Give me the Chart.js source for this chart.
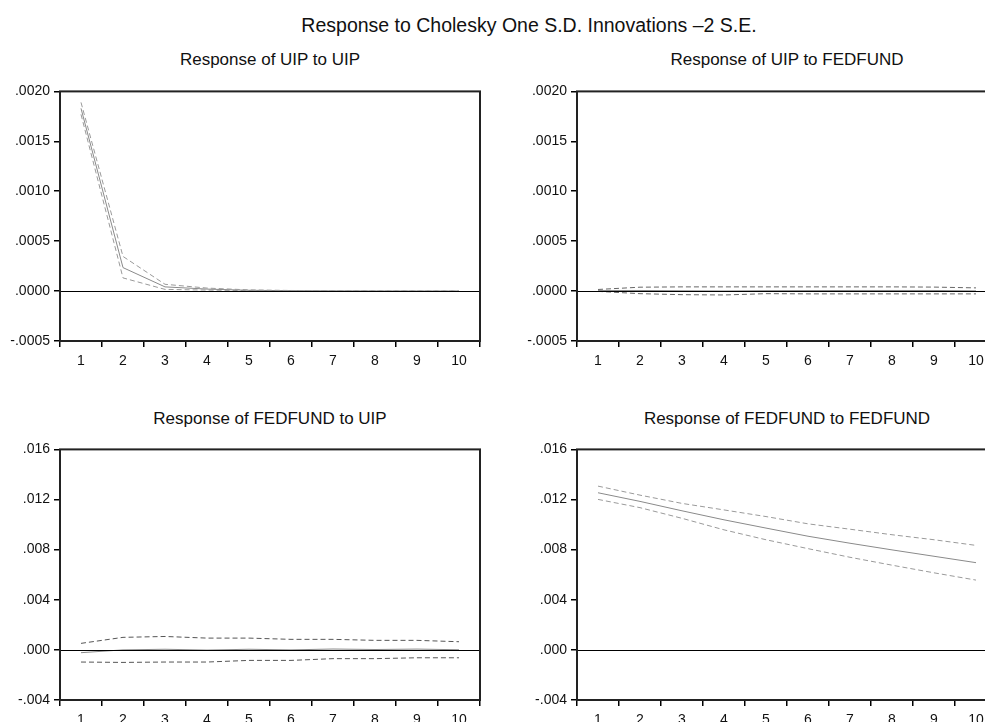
<!DOCTYPE html>
<html>
<head>
<meta charset="utf-8">
<script src="https://cdn.jsdelivr.net/npm/chart.js@4/dist/chart.umd.min.js"></script>
<style>
  html, body { margin: 0; padding: 0; background: #fff; overflow: hidden; width: 985px; height: 722px; }
  body { position: relative; font-family: "Liberation Sans", Arial, sans-serif; color: #111; }
  canvas { position: absolute; }
  .title { position: absolute; text-align: center; white-space: nowrap; }
  #mainTitle { left: 229px; width: 600px; top: 13px; font-size: 19.5px; line-height: 24px; }
  .sub { width: 420px; font-size: 17px; line-height: 20px; }
</style>
</head>
<body>
<div class="title" id="mainTitle">Response to Cholesky One S.D. Innovations –2 S.E.</div>
<div class="title sub" style="left:60px; top:50px;">Response of UIP to UIP</div>
<div class="title sub" style="left:577px; top:50px;">Response of UIP to FEDFUND</div>
<div class="title sub" style="left:60px; top:409px;">Response of FEDFUND to UIP</div>
<div class="title sub" style="left:577px; top:409px;">Response of FEDFUND to FEDFUND</div>

<canvas id="uipUip" width="490" height="300" style="left:0; top:79px;"></canvas>
<canvas id="uipFed" width="490" height="300" style="left:517px; top:79px;"></canvas>
<canvas id="fedUip" width="490" height="301" style="left:0; top:437px;"></canvas>
<canvas id="fedFed" width="490" height="301" style="left:517px; top:437px;"></canvas>

<script>
// periods after the shock
const periods = ['1', '2', '3', '4', '5', '6', '7', '8', '9', '10'];

// Response of UIP to UIP
const uipUipResp  = [0.00183, 0.000235, 0.000042, 0.00002, 0.000008, 0.000004, 0.000002, 0.000001, 0.0000005, 0.0000002];
const uipUipUpper = [0.00189, 0.000347, 0.000068, 0.00003, 0.000012, 0.000006, 0.000003, 0.000002, 0.000001, 0.0000005];
const uipUipLower = [0.00177, 0.000132, 0.000017, 0.00001, 0.000004, 0.000002, 0.000001, 0, 0, 0];

// Response of UIP to FEDFUND
const uipFedResp  = [0.000006, 0.000006, 0.000003, 0.000001, 0.000004, 0.000005, 0.000006, 0.000006, 0.000006, 0.000002];
const uipFedUpper = [0.000016, 0.000039, 0.000042, 0.000042, 0.000042, 0.000042, 0.000042, 0.000042, 0.00004, 0.000032];
const uipFedLower = [-0.000003, -0.000026, -0.000036, -0.000039, -0.000026, -0.000028, -0.000028, -0.000028, -0.000028, -0.000028];

// Response of FEDFUND to UIP
const fedUipResp  = [-0.000225, 0.0, 0.00005, -0.000015, 0.00005, 0.0, 0.00007, 0.00003, 0.000065, 0.00001];
const fedUipUpper = [0.00052, 0.00100, 0.00107, 0.00094, 0.00094, 0.00084, 0.00084, 0.00076, 0.00076, 0.00065];
const fedUipLower = [-0.00097, -0.00100, -0.00097, -0.00097, -0.00084, -0.00084, -0.00070, -0.00070, -0.00063, -0.00063];

// Response of FEDFUND to FEDFUND
const fedFedResp  = [0.01254, 0.01185, 0.01110, 0.01038, 0.00972, 0.00907, 0.00851, 0.00798, 0.00747, 0.00696];
const fedFedUpper = [0.01307, 0.01235, 0.01169, 0.01117, 0.01064, 0.01006, 0.00963, 0.00919, 0.00879, 0.00834];
const fedFedLower = [0.01201, 0.01135, 0.01050, 0.00958, 0.00879, 0.00808, 0.00739, 0.00676, 0.00615, 0.00557];

// y ranges: [min, max, step, decimals]
const uipRange = [-0.0005, 0.002, 0.0005, 4];
const fedRange = [-0.004, 0.016, 0.004, 3];

const tickFont = { family: '"Liberation Sans", Arial, sans-serif', size: 14 };

// box around the plot + zero line on top of the series
const framePlugin = {
    id: 'frame',
    afterDatasetsDraw(chart) {
        const a = chart.chartArea;
        const ctx = chart.ctx;
        const y0 = Math.round(chart.scales.y.getPixelForValue(0)) + 0.5;
        ctx.save();
        ctx.strokeStyle = '#000';
        ctx.lineWidth = 1.2;
        ctx.beginPath();
        ctx.moveTo(a.left, y0);
        ctx.lineTo(a.right, y0);
        ctx.stroke();
        ctx.strokeStyle = '#222';
        ctx.lineWidth = 2;
        ctx.strokeRect(a.left, a.top, a.width, a.height);
        ctx.restore();
    }
};

function fmt(v, dec) {
    const s = Math.abs(v).toFixed(dec).replace(/^0\./, '.');
    return (v < -1e-12 ? '-' : '') + s;
}

function makePanel(id, resp, upper, lower, range, bandColor) {
    const [yMin, yMax, step, dec] = range;
    const band = (data) => ({
        data, borderColor: bandColor, borderWidth: 1, borderDash: [5, 3],
        pointRadius: 0, fill: false, tension: 0
    });
    new Chart(document.getElementById(id), {
        type: 'line',
        data: {
            labels: periods,
            datasets: [
                band(upper),
                { data: resp, borderColor: '#8a8a8a', borderWidth: 1, pointRadius: 0, fill: false, tension: 0 },
                band(lower)
            ]
        },
        options: {
            responsive: false,
            animation: false,
            devicePixelRatio: 1,
            layout: { padding: { top: 10, right: 10, left: 0, bottom: 0 } },
            plugins: { legend: { display: false }, tooltip: { enabled: false } },
            scales: {
                x: {
                    type: 'category',
                    offset: true,
                    border: { display: false },
                    grid: { offset: true, drawOnChartArea: false, drawTicks: true, tickLength: 6, color: '#000', lineWidth: 1.5 },
                    ticks: { padding: 6, maxRotation: 0, autoSkip: false, color: '#111', font: tickFont },
                    afterFit(scale) { scale.height = 38; }
                },
                y: {
                    min: yMin,
                    max: yMax,
                    border: { display: false },
                    grid: { drawOnChartArea: false, drawTicks: true, tickLength: 6, color: '#000', lineWidth: 1.5 },
                    ticks: { stepSize: step, padding: 4, color: '#111', font: tickFont, callback: v => fmt(v, dec) },
                    afterFit(scale) { scale.width = 60; }
                }
            }
        },
        plugins: [framePlugin]
    });
}

makePanel('uipUip', uipUipResp, uipUipUpper, uipUipLower, uipRange, '#9a9a9a');
makePanel('uipFed', uipFedResp, uipFedUpper, uipFedLower, uipRange, '#666');
makePanel('fedUip', fedUipResp, fedUipUpper, fedUipLower, fedRange, '#555');
makePanel('fedFed', fedFedResp, fedFedUpper, fedFedLower, fedRange, '#9a9a9a');
</script>
</body>
</html>
